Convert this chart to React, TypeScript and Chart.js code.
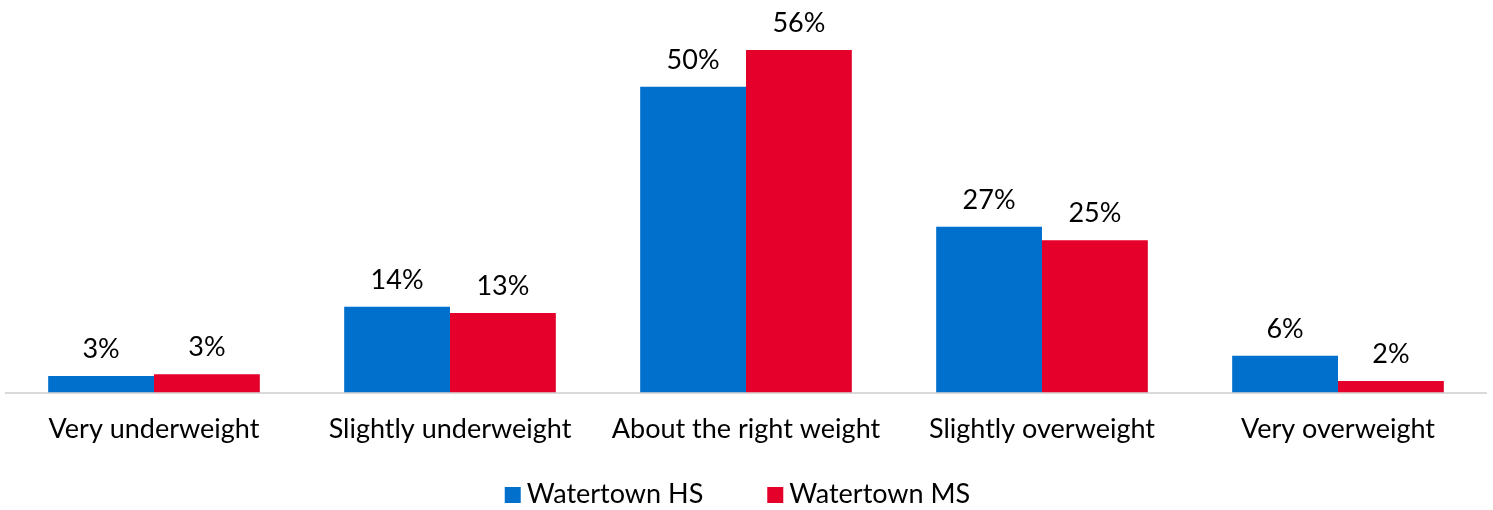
import React, { useEffect, useRef } from "react";
import { Chart, registerables } from "chart.js";

Chart.register(...registerables);

const categories = [
  "Very underweight",
  "Slightly underweight",
  "About the right weight",
  "Slightly overweight",
  "Very overweight",
];
const seriesNames = ["Watertown HS", "Watertown MS"];
const hsValues = [2.7, 14.0, 50.0, 27.1, 6.0];
const msValues = [3.0, 13.0, 56.0, 24.9, 1.9];
const colors = ["#0070CC", "#E4002B"];

const FONT = "Lato, 'Open Sans', sans-serif";
const FS = 27;

const valueLabels = {
  id: "valueLabels",
  afterDatasetsDraw(chart: any) {
    const ctx = chart.ctx;
    ctx.save();
    ctx.font = `${FS}px ${FONT}`;
    ctx.fillStyle = "#000";
    ctx.textAlign = "center";
    ctx.textBaseline = "alphabetic";
    chart.data.datasets.forEach((ds: any, i: number) => {
      const meta = chart.getDatasetMeta(i);
      meta.data.forEach((bar: any, j: number) => {
        const v = ds.data[j];
        ctx.fillText(Math.round(v) + "%", bar.x, bar.y - 18);
      });
    });
    ctx.restore();
  },
};

const customLegend = {
  id: "customLegend",
  afterDraw(chart: any) {
    const ctx = chart.ctx;
    ctx.save();
    ctx.font = `${FS}px ${FONT}`;
    ctx.textBaseline = "alphabetic";
    ctx.textAlign = "left";
    const box = 16;
    const gap = 6;
    const itemGap = 64;
    const items = chart.data.datasets.map((ds: any) => ({
      label: ds.label,
      color: ds.backgroundColor,
      w: box + gap + ctx.measureText(ds.label).width,
    }));
    const total =
      items.reduce((s: number, it: any) => s + it.w, 0) + itemGap * (items.length - 1);
    let x = (chart.width - total) / 2 - 9;
    const baseline = 503;
    items.forEach((it: any) => {
      ctx.fillStyle = it.color;
      ctx.fillRect(x, baseline - box, box, box);
      ctx.fillStyle = "#000";
      ctx.fillText(it.label, x + box + gap, baseline);
      x += it.w + itemGap;
    });
    ctx.restore();
  },
};

export default function App() {
  const ref = useRef<HTMLCanvasElement | null>(null);
  useEffect(() => {
    if (!ref.current) return;
    const chart = new Chart(ref.current, {
      type: "bar",
      data: {
        labels: categories,
        datasets: [
          {
            label: seriesNames[0],
            data: hsValues,
            backgroundColor: colors[0],
            categoryPercentage: 0.715,
            barPercentage: 1,
          },
          {
            label: seriesNames[1],
            data: msValues,
            backgroundColor: colors[1],
            categoryPercentage: 0.715,
            barPercentage: 1,
          },
        ],
      },
      options: {
        animation: false,
        responsive: true,
        maintainAspectRatio: false,
        layout: { padding: { left: 6, right: 7, top: 0, bottom: 57.5 } },
        plugins: {
          legend: { display: false },
          tooltip: { enabled: false },
        },
        scales: {
          x: {
            grid: { display: false, drawTicks: false },
            border: { display: true, color: "#D9D9D9", width: 2 },
            ticks: {
              color: "#000",
              font: { family: FONT, size: FS },
              padding: 21,
              maxRotation: 0,
            },
            afterFit(scale: any) {
              scale.height = 60;
            },
          },
          y: {
            display: false,
            min: 0,
            max: 64.17,
          },
        },
      },
      plugins: [valueLabels, customLegend],
    });
    return () => chart.destroy();
  }, []);
  return (
    <div style={{ position: "absolute", left: 0, top: 0, width: 1493, height: 510, background: "#fff" }}>
      <canvas ref={ref} />
    </div>
  );
}
